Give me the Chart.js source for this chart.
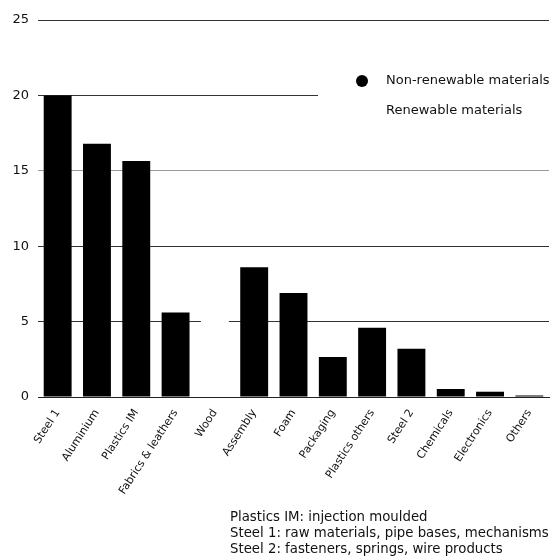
<!DOCTYPE html>
<html>
<head>
<meta charset="utf-8">
<script src="https://cdn.jsdelivr.net/npm/chart.js@4"></script>
<style>
	html, body { margin: 0; padding: 0; background: #fff; }
	#wrap { position: relative; width: 552px; height: 559px; }
	#note {
		position: absolute; left: 230px; top: 509px;
		font: 13.3px "DejaVu Sans", sans-serif; line-height: 16px; color: #111;
		white-space: nowrap;
	}
</style>
</head>
<body>
<div id="wrap">
	<canvas id="chart" width="552" height="559"></canvas>
	<div id="note">
		Plastics IM: injection moulded<br>
		Steel 1: raw materials, pipe bases, mechanisms<br>
		Steel 2: fasteners, springs, wire products
	</div>
</div>
<script>
var categories = ['Steel 1', 'Aluminium', 'Plastics IM', 'Fabrics & leathers', 'Wood', 'Assembly', 'Foam',
	'Packaging', 'Plastics others', 'Steel 2', 'Chemicals', 'Electronics', 'Others'];
var nonRenewable = [20, 16.8, 15.65, 5.6, null, 8.6, 6.9, 2.65, 4.6, 3.2, 0.53, 0.35, 0.1];
var renewable    = [null, null, null, null, 5.3, null, null, null, null, null, null, null, null];
var yTicks = [0, 5, 10, 15, 20, 25];

var FONT = '"DejaVu Sans", sans-serif';

// legend box sits inside the plot, on a white patch that hides the gridline behind it
var legendBox = {
	id: 'legendBox',
	afterDatasetsDraw: function(chart) {
		var ctx = chart.ctx,
			area = chart.chartArea,
			x0 = area.right - 231,
			top = area.top + 42;

		ctx.save();
		ctx.fillStyle = '#fff';
		ctx.fillRect(x0, top, area.right - x0 + 4, 86);

		ctx.font = '13px ' + FONT;
		ctx.textBaseline = 'middle';
		chart.data.datasets.forEach(function(ds, i) {
			var y = area.top + 61 + i * 30;
			ctx.beginPath();
			ctx.arc(area.right - 187, y, 6, 0, Math.PI * 2);
			ctx.fillStyle = ds.backgroundColor;
			ctx.fill();
			ctx.fillStyle = '#111';
			ctx.fillText(ds.label, area.right - 163, y);
		});
		ctx.restore();
	}
};

new Chart(document.getElementById('chart'), {
	type: 'bar',
	data: {
		labels: categories,
		datasets: [
			{ label: 'Non-renewable materials', data: nonRenewable, backgroundColor: '#000' },
			{ label: 'Renewable materials', data: renewable, backgroundColor: '#fff' }
		]
	},
	options: {
		responsive: false,
		animation: false,
		layout: { padding: { top: 20, right: 3 } },
		datasets: { bar: { barPercentage: 0.71, categoryPercentage: 1 } },
		plugins: {
			legend: { display: false },
			tooltip: { enabled: false }
		},
		scales: {
			x: {
				stacked: true,
				grid: { display: false },
				border: { display: true, color: '#222', width: 1, z: 1 },
				ticks: {
					autoSkip: false,
					maxRotation: 57,
					minRotation: 57,
					padding: 2,
					color: '#111',
					font: { family: FONT, size: 11 }
				},
				afterFit: function(scale) { scale.height = 162; }
			},
			y: {
				stacked: true,
				min: 0,
				max: 25,
				afterBuildTicks: function(scale) {
					scale.ticks = yTicks.map(function(v) { return { value: v }; });
				},
				grid: {
					drawTicks: false,
					color: function(c) { return c.tick && c.tick.value === 15 ? '#999' : '#333'; }
				},
				border: { display: false },
				ticks: {
					padding: 9,
					color: '#111',
					font: { family: FONT, size: 13 }
				},
				afterFit: function(scale) { scale.width = 38; }
			}
		}
	},
	plugins: [legendBox]
});
</script>
</body>
</html>
